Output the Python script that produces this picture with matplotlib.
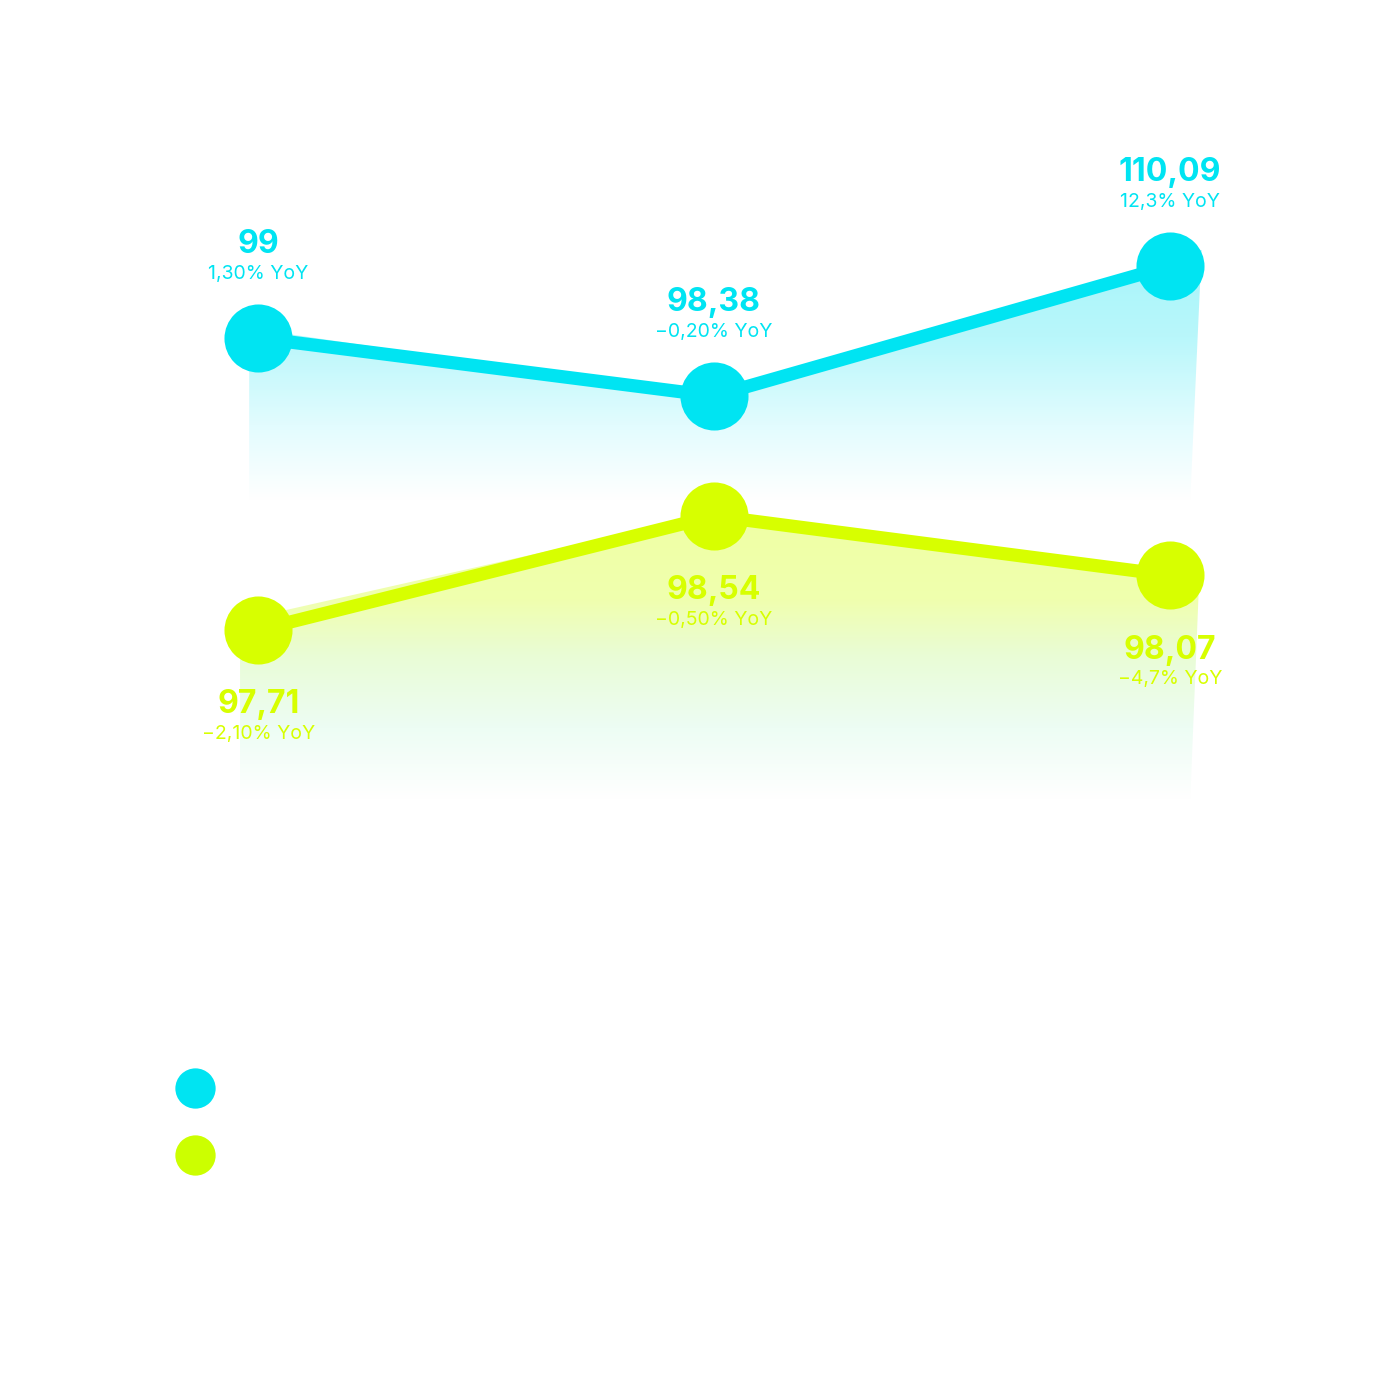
import numpy as np
import matplotlib
matplotlib.use("Agg")
import matplotlib.pyplot as plt
from matplotlib.patches import Polygon
from matplotlib.lines import Line2D
from matplotlib.colors import LinearSegmentedColormap

# ---- data ----
periods = ["P1", "P2", "P3"]
cyan_level = [70.25, 63.0, 79.25]          # plotted height (index units)
yellow_level = [33.75, 48.0, 40.6]
cyan_values = ["99", "98,38", "110,09"]
cyan_yoy = ["1,30% YoY", "−0,20% YoY", "12,3% YoY"]
yellow_values = ["97,71", "98,54", "98,07"]
yellow_yoy = ["−2,10% YoY", "−0,50% YoY", "−4,7% YoY"]
series_names = ["Series A", "Series B"]

# ---- style ----
CYAN = "#00E4F2"
YELLOW = "#D7FF00"
YELLOW_LEG = "#CCFF00"
cyan_base = 50.0
yellow_base = 12.5

plt.rcParams["font.family"] = ["Inter", "DejaVu Sans"]

fig = plt.figure(figsize=(13.75, 13.75), dpi=100)
fig.patch.set_facecolor("white")
ax = fig.add_axes([76 / 1375, 475 / 1375, 1276 / 1375, 800 / 1375])
ax.set_xlim(-0.4, 2.4)
ax.set_ylim(0, 100)
ax.axis("off")

x = np.arange(len(periods))


def gradient_fill(xs, ys, base, stops, top_shift, xl, xr, xr_bot, z):
    # polygon slightly offset from the line (as in the reference)
    top_y = [ys[0] + top_shift[0], ys[1] + top_shift[1], ys[2] + top_shift[2]]
    verts = [(xs[0] + xl, top_y[0]), (xs[1], top_y[1]), (xs[2] + xr, top_y[2]),
             (xs[2] + xr_bot, base), (xs[0] + xl, base)]
    poly = Polygon(verts, closed=True, facecolor="none", edgecolor="none")
    ax.add_patch(poly)
    ytop = max(top_y)
    cmap = LinearSegmentedColormap.from_list("g", stops)
    grad = np.linspace(0, 1, 256).reshape(-1, 1)
    im = ax.imshow(grad, cmap=cmap, aspect="auto",
                   extent=[xs[0] + xl, xs[2] + xr, base, ytop],
                   origin="upper", zorder=z, interpolation="bilinear")
    im.set_clip_path(poly)


cyan_stops = [(0.0, "#A6F5FA"), (0.35, "#B9F7FB"), (0.7, "#E2FCFE"), (1.0, "#FFFFFF")]
yellow_stops = [(0.0, "#EFFFA4"), (0.3, "#F0FFAE"), (0.5, "#E9FCD6"),
                (0.75, "#EDFDF4"), (1.0, "#FFFFFF")]

gradient_fill(x, cyan_level, cyan_base, cyan_stops, (1.2, 0.0, 2.0), -0.02, 0.07, 0.045, 1)
gradient_fill(x, yellow_level, yellow_base, yellow_stops, (1.2, 0.3, 0.0), -0.04, 0.065, 0.045, 1)

ax.plot(x, cyan_level, color=CYAN, lw=9.5, zorder=3, solid_capstyle="round")
ax.plot(x, cyan_level, 'o', color=CYAN, markersize=49, zorder=4, markeredgewidth=0)
ax.plot(x, yellow_level, color=YELLOW, lw=9.5, zorder=3, solid_capstyle="round")
ax.plot(x, yellow_level, 'o', color=YELLOW, markersize=49, zorder=4, markeredgewidth=0)

for xi, yi, v, p in zip(x, cyan_level, cyan_values, cyan_yoy):
    ax.annotate(v, (xi, yi), xytext=(0, 67), textcoords="offset points",
                ha="center", va="center", fontsize=23, fontweight="bold", color=CYAN, zorder=5)
    ax.annotate(p, (xi, yi), xytext=(0, 46), textcoords="offset points",
                ha="center", va="center", fontsize=14, color=CYAN, zorder=5)

for xi, yi, v, p in zip(x, yellow_level, yellow_values, yellow_yoy):
    ax.annotate(v, (xi, yi), xytext=(0, -54), textcoords="offset points",
                ha="center", va="center", fontsize=23, fontweight="bold", color=YELLOW, zorder=5)
    ax.annotate(p, (xi, yi), xytext=(0, -75), textcoords="offset points",
                ha="center", va="center", fontsize=14, color=YELLOW, zorder=5)

handles = [Line2D([], [], marker="o", linestyle="none", markersize=29, color=CYAN, markeredgewidth=0),
           Line2D([], [], marker="o", linestyle="none", markersize=29, color=YELLOW_LEG, markeredgewidth=0)]
leg = fig.legend(handles, series_names, loc="upper left", bbox_to_anchor=(167 / 1375, 1 - 1078 / 1375),
                 frameon=False, fontsize=20, labelspacing=1.45, handletextpad=1.0,
                 borderpad=0, borderaxespad=0, labelcolor="white")

fig.savefig("out.png", dpi=100, facecolor="white")
